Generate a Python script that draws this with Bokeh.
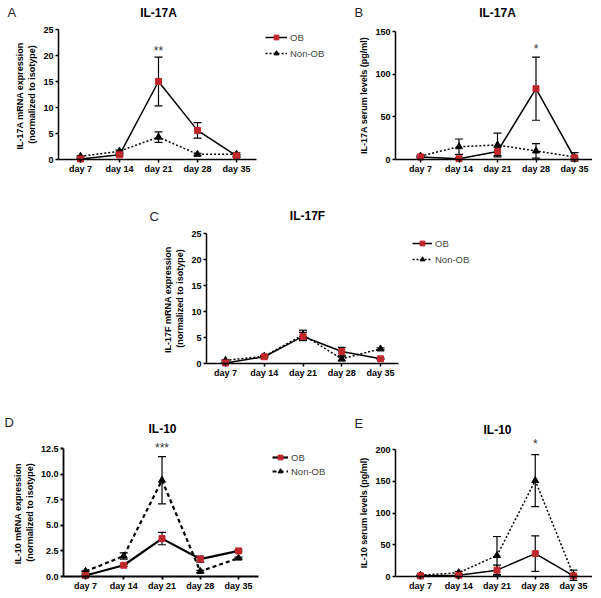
from bokeh.plotting import figure
from bokeh.models import (ColumnDataSource, Whisker, TeeHead, Label, Legend, LegendItem,
                          FixedTicker, Range1d, Spacer, NumeralTickFormatter)
from bokeh.layouts import row, column
from bokeh.embed import file_html
from bokeh.resources import INLINE

# ---------------- data ----------------
days = ["day 7", "day 14", "day 21", "day 28", "day 35"]

# A: IL-17A mRNA expression
a_ob = [0.1, 0.9, 15.0, 5.6, 0.7]
a_ob_err = [0.1, 0.2, 4.7, 1.5, 0.3]
a_non = [0.6, 1.6, 4.3, 1.0, 1.0]
a_non_err = [0.1, 0.2, 1.0, 0.2, 0.3]

# B: IL-17A serum levels (pg/ml)
b_ob = [3.0, 1.0, 9.5, 83.0, 2.0]
b_ob_err = [1.0, 0.5, 5.0, 37.0, 1.0]
b_non = [4.0, 15.0, 17.0, 10.0, 3.0]
b_non_err = [1.0, 9.0, 14.0, 8.5, 5.0]

# C: IL-17F mRNA expression
c_ob = [0.1, 1.3, 5.2, 2.3, 0.9]
c_ob_err = [0.1, 0.2, 0.8, 0.8, 0.1]
c_non = [0.6, 1.4, 5.5, 0.9, 2.8]
c_non_err = [0.1, 0.1, 0.9, 0.4, 0.2]

# D: IL-10 mRNA expression
d_ob = [0.1, 1.1, 3.7, 1.7, 2.5]
d_ob_err = [0.05, 0.1, 0.6, 0.3, 0.1]
d_non = [0.5, 2.0, 9.4, 0.5, 1.8]
d_non_err = [0.05, 0.3, 2.3, 0.1, 0.1]

# E: IL-10 serum levels (pg/ml)
e_ob = [1.0, 2.0, 10.0, 36.0, 1.0]
e_ob_err = [0.5, 1.0, 8.0, 28.0, 1.0]
e_non = [2.0, 6.0, 33.0, 151.0, 2.0]
e_non_err = [0.5, 2.0, 30.0, 41.0, 8.0]

series_labels = ["OB", "Non-OB"]

FONT = "Liberation Sans"
RED = "#c0272d"


def make_panel(spec, ob, ob_err, non, non_err):
    fl, ft, fw, fh = spec["fig"]          # figure box in picture pixels
    L, R, T, B = spec["axes"]             # where the axes sit
    c7, c35 = spec["cats"]
    unit = (c35 - c7) / 4.0
    ymax = spec["ymax"]
    yunit = (B - T) / ymax

    def dx(px):
        return (px - c7) / unit

    def dy(py):
        return (B - py) / yunit

    p = figure(width=fw, height=fh, output_backend="svg", toolbar_location=None,
               min_border=0,
               x_range=Range1d(dx(fl), dx(fl + fw)),
               y_range=Range1d(dy(ft + fh), dy(ft)))
    p.outline_line_color = None
    p.background_fill_color = None
    p.border_fill_color = None
    p.xgrid.visible = False
    p.ygrid.visible = False

    for ax in (p.xaxis[0], p.yaxis[0]):
        ax.axis_line_width = spec["axw"]
        ax.major_tick_line_width = spec["axw"]
        ax.major_tick_out = 3
        ax.major_tick_in = 0
        ax.minor_tick_line_color = None
        ax.major_label_text_font = FONT
        ax.major_label_text_font_size = "9px"
        ax.major_label_text_font_style = "bold"
        ax.major_label_text_color = "black"
        ax.major_label_standoff = 2
    p.xaxis.major_label_standoff = 1

    p.xaxis.fixed_location = 0
    p.xaxis.bounds = (dx(L), dx(R))
    p.yaxis.fixed_location = dx(L)
    p.yaxis.bounds = (0, ymax)

    p.xaxis.ticker = FixedTicker(ticks=list(range(len(days))))
    p.xaxis.major_label_overrides = {i: d for i, d in enumerate(days)}
    p.yaxis.ticker = FixedTicker(ticks=spec["yticks"])
    p.yaxis.formatter = NumeralTickFormatter(format=spec["yfmt"])
    p.yaxis.axis_label = spec["ylabel"]
    p.yaxis.axis_label_text_font = FONT
    p.yaxis.axis_label_text_font_size = "9px"
    p.yaxis.axis_label_text_font_style = "bold"
    p.yaxis.axis_label_text_color = "black"
    p.yaxis.axis_label_standoff = 3

    xs = list(range(len(days)))
    lw = spec["lw"]

    def whisk(vals, errs):
        src = ColumnDataSource(dict(x=xs,
                                    upper=[v + e for v, e in zip(vals, errs)],
                                    lower=[v - e for v, e in zip(vals, errs)]))
        w = Whisker(source=src, base="x", upper="upper", lower="lower",
                    line_color="black", line_width=1.2,
                    upper_head=TeeHead(size=8, line_color="black", line_width=1.2),
                    lower_head=TeeHead(size=8, line_color="black", line_width=1.2))
        p.add_layout(w)

    whisk(non, non_err)
    whisk(ob, ob_err)

    non_line = p.line(xs, non, line_color="black", line_width=lw, line_dash=spec["dash"])
    ob_line = p.line(xs, ob, line_color="black", line_width=lw)
    non_m = p.scatter(xs, non, marker="triangle", size=7, color="black")
    ob_m = p.scatter(xs, ob, marker="square", size=6, color=RED)

    if spec.get("legend"):
        lx, ly, sp, gw = spec["legend"]
        leg = Legend(items=[LegendItem(label=series_labels[0], renderers=[ob_line, ob_m]),
                            LegendItem(label=series_labels[1], renderers=[non_line, non_m])],
                     location=(lx - fl, ft + fh - ly), orientation="vertical",
                     border_line_color=None, background_fill_alpha=0,
                     padding=0, margin=0, spacing=sp,
                     glyph_width=gw, glyph_height=12, label_height=12, label_standoff=3,
                     label_text_font=FONT, label_text_font_size="9.5px")
        p.add_layout(leg)

    tx, ty = spec["title_pos"]
    p.add_layout(Label(x=dx(tx), y=dy(ty), text=spec["title"], text_font=FONT,
                       text_font_size="12px", text_font_style="bold",
                       text_align="center", text_baseline="middle", text_color="black"))
    lx_, ly_ = spec["letter_pos"]
    p.add_layout(Label(x=dx(lx_), y=dy(ly_), text=spec["letter"], text_font=FONT,
                       text_font_size="13px", text_align="left",
                       text_baseline="middle", text_color="#222222"))
    if spec["star"]:
        sx, sy = spec["star_pos"]
        p.add_layout(Label(x=sx, y=dy(sy), text=spec["star"], text_font=FONT,
                           text_font_size="12px", text_align="center",
                           text_baseline="middle", text_color="#333333"))
    return p


specA = dict(fig=(0, 0, 336, 190), axes=(58, 256, 29, 159), cats=(80, 236),
             ymax=25, yticks=[0, 5, 10, 15, 20, 25], yfmt="0",
             ylabel="IL-17A mRNA  expression\n(normalized to isotype)",
             title="IL-17A", title_pos=(158, 12), letter="A", letter_pos=(7, 12),
             star="**", star_pos=(2, 50), legend=(265, 59, 4, 22),
             lw=1.5, dash="2 2", axw=1.5)
specB = dict(fig=(336, 0, 256, 190), axes=(395, 595, 31, 159), cats=(420, 574),
             ymax=150, yticks=[0, 50, 100, 150], yfmt="0",
             ylabel="IL-17A serum levels (pg/ml)",
             title="IL-17A", title_pos=(497, 12), letter="B", letter_pos=(354, 12),
             star="*", star_pos=(3, 48), legend=None,
             lw=1.5, dash="2 2", axw=1.5)
specC = dict(fig=(132, 190, 370, 200), axes=(206, 398, 233, 363), cats=(225, 380),
             ymax=25, yticks=[0, 5, 10, 15, 20, 25], yfmt="0",
             ylabel="IL-17F mRNA  expression\n(normalized to isotype)",
             title="IL-17F", title_pos=(307, 215), letter="C", letter_pos=(149, 216),
             star="", star_pos=(2, 240), legend=(412, 265, 4, 20),
             lw=1.5, dash="2 2", axw=1.5)
specD = dict(fig=(0, 390, 336, 202), axes=(63, 258, 448, 576), cats=(85, 238),
             ymax=12.5, yticks=[0, 2.5, 5, 7.5, 10, 12.5], yfmt="0.0",
             ylabel="IL-10 mRNA  expression\n(normalized to isotype)",
             title="IL-10", title_pos=(162, 428), letter="D", letter_pos=(4, 422),
             star="***", star_pos=(2, 447), legend=(272, 477, 2, 16),
             lw=2.2, dash="4 3", axw=1.8)
specE = dict(fig=(336, 390, 256, 202), axes=(395, 593, 449, 576), cats=(420, 573),
             ymax=200, yticks=[0, 50, 100, 150, 200], yfmt="0",
             ylabel="IL-10 serum levels (pg/ml)",
             title="IL-10", title_pos=(497, 429), letter="E", letter_pos=(354, 423),
             star="*", star_pos=(3, 443), legend=None,
             lw=1.5, dash="2 2", axw=1.5)

pA = make_panel(specA, a_ob, a_ob_err, a_non, a_non_err)
pB = make_panel(specB, b_ob, b_ob_err, b_non, b_non_err)
pC = make_panel(specC, c_ob, c_ob_err, c_non, c_non_err)
pD = make_panel(specD, d_ob, d_ob_err, d_non, d_non_err)
pE = make_panel(specE, e_ob, e_ob_err, e_non, e_non_err)

layout = column(row(pA, pB),
                row(Spacer(width=132, height=200), pC),
                row(pD, pE))

open("out.html", "w").write(file_html(layout, INLINE))
